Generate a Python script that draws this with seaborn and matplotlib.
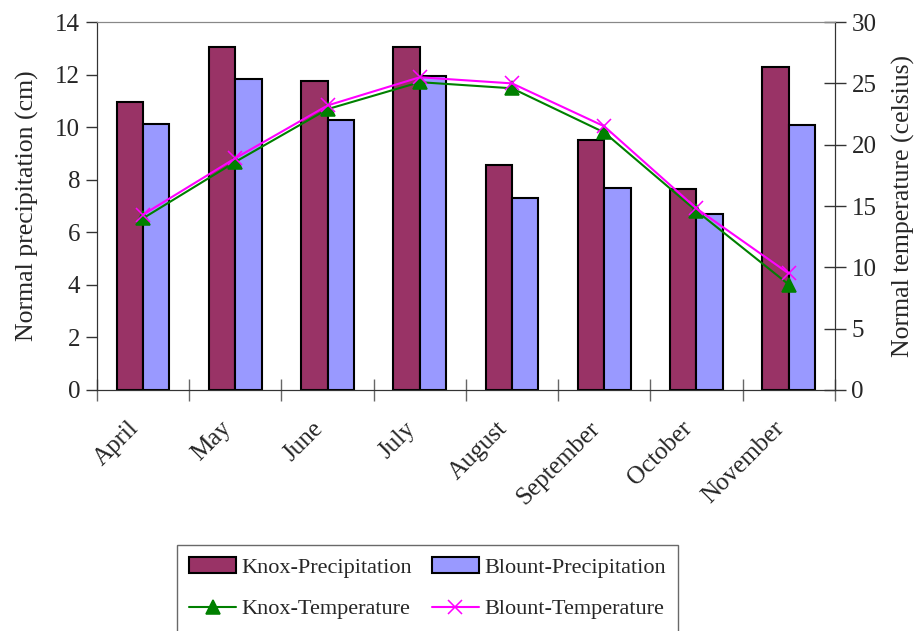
import pandas as pd
import numpy as np
import matplotlib
matplotlib.use("Agg")
import matplotlib.pyplot as plt
import seaborn as sns

# data
months = ['April', 'May', 'June', 'July', 'August', 'September', 'October', 'November']
knox_precip = [10.95, 13.06, 11.77, 13.06, 8.57, 9.50, 7.66, 12.30]
blount_precip = [10.12, 11.84, 10.26, 11.93, 7.30, 7.68, 6.68, 10.10]
knox_temp = [14.0, 18.6, 22.9, 25.1, 24.6, 21.0, 14.6, 8.6]
blount_temp = [14.3, 18.9, 23.2, 25.5, 25.0, 21.5, 14.8, 9.5]

sns.set_style("white")
plt.rcParams['font.family'] = ['Liberation Serif', 'DejaVu Serif']
fs = 18

precip = pd.DataFrame({
    'Month': months * 2,
    'Precip': knox_precip + blount_precip,
    'Series': ['Knox-Precipitation'] * 8 + ['Blount-Precipitation'] * 8,
})
temp = pd.DataFrame({
    'Month': months * 2,
    'Temp': knox_temp + blount_temp,
    'Series': ['Knox-Temperature'] * 8 + ['Blount-Temperature'] * 8,
})

fig = plt.figure(figsize=(9.2, 6.31), dpi=100)
ax = fig.add_axes([0.1054, 0.382, 0.802, 0.583])

sns.barplot(data=precip, x='Month', y='Precip', hue='Series', order=months,
            palette=['#993366', '#9999FF'], edgecolor='black', linewidth=1.5,
            width=0.57, saturation=1, ax=ax)
ax.set_ylim(0, 14)
ax.set_yticks(range(0, 15, 2))
ax.set_ylabel('Normal precipitation (cm)', fontsize=fs + 0.5, labelpad=12)
ax.set_xlabel('')

ax2 = ax.twinx()
sns.pointplot(data=temp, x='Month', y='Temp', hue='Series', order=months,
              palette=['#008000', '#FF00FF'], markers=['^', 'x'],
              markersize=10, linewidth=1.5, ax=ax2)
ax2.set_ylim(0, 30)
ax2.set_yticks(range(0, 31, 5))
ax2.set_ylabel('Normal temperature (celsius)', fontsize=fs + 0.5, labelpad=11)
ax2.set_xlabel('')
ax.set_xlim(-0.5, 7.5)

# x ticks at category boundaries, labels at centres
ax.set_xticks(np.arange(len(months)))
ax.set_xticklabels(months, rotation=45, ha='right', va='bottom',
                   rotation_mode='anchor', fontsize=fs)
ax.tick_params(axis='x', which='major', length=0, pad=31, bottom=True)
ax.set_xticks(np.arange(-0.5, len(months)), minor=True)
ax.tick_params(axis='x', which='minor', length=16, direction='inout', width=1,
               color='#666666', bottom=True)
ax.tick_params(axis='y', length=8, direction='out', width=1, color='#333333',
               labelsize=fs, left=True, pad=4)
ax2.tick_params(axis='y', length=16, direction='inout', width=1, color='#333333',
                labelsize=fs, right=True, pad=4)

for a in (ax, ax2):
    a.spines['top'].set_color('#888888')
    a.spines['left'].set_color('#333333')
    a.spines['right'].set_color('#333333')
    a.spines['bottom'].set_color('#333333')
    if a.get_legend():
        a.get_legend().remove()

h1, l1 = ax.get_legend_handles_labels()
h2, l2 = ax2.get_legend_handles_labels()
handles = [h1[0], h2[0], h1[1], h2[1]]
labels = [l1[0], l2[0], l1[1], l2[1]]
leg = fig.legend(handles, labels, ncol=2, loc='upper left',
                 bbox_to_anchor=(177 / 920, 1 - 545 / 631), borderaxespad=0,
                 fontsize=16, frameon=True, fancybox=False, edgecolor='#444444',
                 handlelength=2.1, handleheight=0.7, columnspacing=0.9,
                 borderpad=0.55, labelspacing=0.95, handletextpad=0.25)
leg.get_frame().set_linewidth(1)

plt.savefig('out.png', dpi=100)
